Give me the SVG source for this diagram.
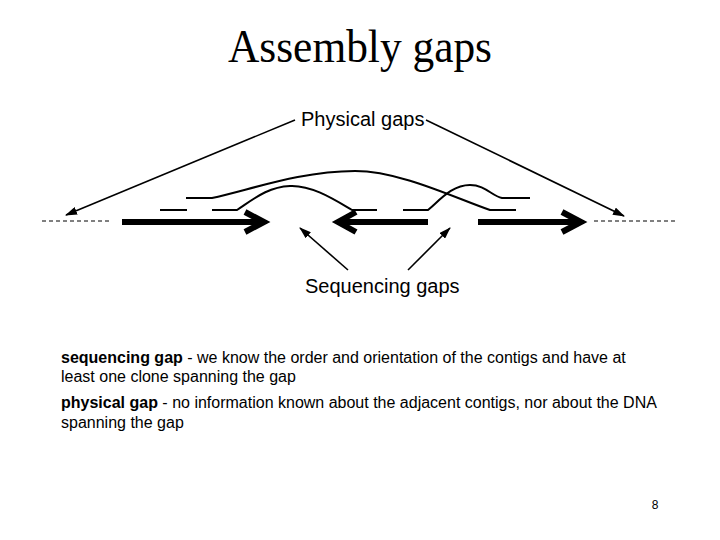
<svg xmlns="http://www.w3.org/2000/svg" width="720" height="540" viewBox="0 0 720 540">
<style>
.title{font-family:"Liberation Serif","Times New Roman",serif;font-size:46px;fill:#000}
.lbl{font-family:"Liberation Sans",Arial,sans-serif;font-size:20px;fill:#000}
.body{font-family:"Liberation Sans",Arial,sans-serif;font-size:16px;fill:#000}
.b{font-weight:bold}
.pg{font-family:"Liberation Sans",Arial,sans-serif;font-size:12px;fill:#000}
.read{fill:none;stroke:#000;stroke-width:2}
.contig{fill:none;stroke:#000;stroke-width:6;stroke-linejoin:miter;stroke-miterlimit:10}
.dash{fill:none;stroke:#000;stroke-width:1;stroke-dasharray:4 3}
.ptr{fill:none;stroke:#000;stroke-width:1.6}
</style>
<defs>
<marker id="ah" markerWidth="12" markerHeight="8" refX="11" refY="4" orient="auto" markerUnits="userSpaceOnUse">
<path d="M0,0 L12,4 L0,8 Z" fill="#000"/>
</marker>
</defs>
<rect width="720" height="540" fill="#fff"/>
<g id="title"><text class="title" x="360" y="62" text-anchor="middle" textLength="264" lengthAdjust="spacingAndGlyphs">Assembly gaps</text></g>
<g id="dna">
<path class="dash" d="M42,221 H110"/>
<path class="dash" d="M594,221 H675"/>
<path class="contig" d="M122,222 H262 M245,212 L264,222 L245,232"/>
<path class="contig" d="M340,222 H428 M356,212 L338,222 L356,232"/>
<path class="contig" d="M478,222 H580 M562,212 L581,222 L562,232"/>
<path class="read" d="M160,210 H187"/>
<path class="read" d="M186,198 H212 C250,190 300,171 355,171 C400,171 455,198 490,210 H516"/>
<path class="read" d="M212,210 H237 C255,198 268,187 290,186 C312,185 335,200 352,210 H377"/>
<path class="read" d="M403,210 H428 C440,200 452,185 470,185 C485,185 492,196 502,198 H530"/>
</g>
<g id="physical-label"><text class="lbl" x="301" y="126">Physical gaps</text></g>
<g id="sequencing-label"><text class="lbl" x="305" y="293">Sequencing gaps</text></g>
<g id="connectors">
<path class="ptr" d="M295,120 L66,215" marker-end="url(#ah)"/>
<path class="ptr" d="M426,120 L624,216" marker-end="url(#ah)"/>
<path class="ptr" d="M348,270 L300,228" marker-end="url(#ah)"/>
<path class="ptr" d="M408,270 L450,228" marker-end="url(#ah)"/>
</g>
<g id="definitions">
<text class="body" x="61" y="363"><tspan class="b">sequencing gap</tspan> - we know the order and orientation of the contigs and have at</text>
<text class="body" x="61" y="382">least one clone spanning the gap</text>
<text class="body" x="61" y="408"><tspan class="b">physical gap</tspan> - no information known about the adjacent contigs, nor about the DNA</text>
<text class="body" x="61" y="428">spanning the gap</text>
</g>
<g id="page"><text class="pg" x="655" y="509" text-anchor="middle">8</text></g>
</svg>
